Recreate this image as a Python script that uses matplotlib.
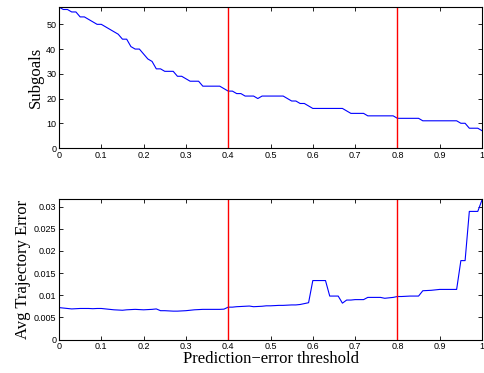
import numpy as np
import matplotlib
matplotlib.use("Agg")
import matplotlib.pyplot as plt

thresholds = np.round(np.arange(0, 1.0001, 0.01), 2)

subgoals = [57, 56, 56, 55, 55, 53, 53, 52, 51, 50,
            50, 49, 48, 47, 46, 44, 44, 41, 40, 40,
            38, 36, 35, 32, 32, 31, 31, 31, 29, 29,
            28, 27, 27, 27, 25, 25, 25, 25, 25, 24,
            23, 23, 22, 22, 21, 21, 21, 20, 21, 21,
            21, 21, 21, 21, 20, 19, 19, 18, 18, 17,
            16, 16, 16, 16, 16, 16, 16, 16, 15, 14,
            14, 14, 14, 13, 13, 13, 13, 13, 13, 13,
            12, 12, 12, 12, 12, 12, 11, 11, 11, 11,
            11, 11, 11, 11, 11, 10, 10, 8, 8, 8,
            7]

traj_err = [7.2, 7.1, 7.0, 6.9, 6.95, 7.0, 7.0, 7.0, 6.95, 7.0,
            7.0, 6.9, 6.8, 6.7, 6.65, 6.6, 6.7, 6.75, 6.8, 6.75,
            6.7, 6.75, 6.8, 6.9, 6.5, 6.5, 6.45, 6.4, 6.4, 6.45,
            6.5, 6.6, 6.7, 6.75, 6.8, 6.8, 6.8, 6.8, 6.8, 6.85,
            7.3, 7.3, 7.4, 7.45, 7.5, 7.55, 7.4, 7.45, 7.5, 7.6,
            7.6, 7.65, 7.7, 7.7, 7.75, 7.8, 7.8, 7.9, 8.1, 8.3,
            13.3, 13.3, 13.3, 13.3, 9.8, 9.8, 9.8, 8.2, 8.9, 8.9,
            9.0, 9.0, 9.0, 9.5, 9.5, 9.5, 9.5, 9.3, 9.4, 9.5,
            9.7, 9.7, 9.75, 9.8, 9.8, 9.8, 11.0, 11.05, 11.1, 11.2,
            11.3, 11.3, 11.3, 11.3, 11.3, 17.8, 17.8, 28.9, 28.9, 28.9,
            31.5]
traj_err = [v / 1000.0 for v in traj_err]

vlines = [0.4, 0.8]
xticks = [0, 0.1, 0.2, 0.3, 0.4, 0.5, 0.6, 0.7, 0.8, 0.9, 1]
xticklabels = ["0", "0.1", "0.2", "0.3", "0.4", "0.5", "0.6", "0.7", "0.8", "0.9", "1"]
yticks_top = [0, 10, 20, 30, 40, 50]
yticks_bot = [0, 0.005, 0.01, 0.015, 0.02, 0.025, 0.03]
yticklabels_bot = ["0", "0.005", "0.01", "0.015", "0.02", "0.025", "0.03"]

fig = plt.figure(figsize=(4.84, 3.73), dpi=100)
ax1 = fig.add_axes([0.1219, 0.6032, 0.874, 0.378])
ax2 = fig.add_axes([0.1219, 0.0898, 0.874, 0.3767])

tickfont = "Liberation Sans"
labfont = "Liberation Serif"

def style(ax):
    ax.tick_params(direction="in", top=True, right=True, length=3, width=0.6,
                   labelsize=6.5, pad=2)
    for lab in ax.get_xticklabels() + ax.get_yticklabels():
        lab.set_fontfamily(tickfont)
    for s in ax.spines.values():
        s.set_linewidth(0.8)

ax1.plot(thresholds, subgoals, color="blue", lw=0.8)
for v in vlines:
    ax1.axvline(v, color="red", lw=1.0)
ax1.set_xlim(0, 1)
ax1.set_ylim(0, 57)
ax1.set_xticks(xticks)
ax1.set_xticklabels(xticklabels)
ax1.set_yticks(yticks_top)
ax1.set_ylabel("Subgoals", fontfamily=labfont, fontsize=12, labelpad=2)
style(ax1)

ax2.plot(thresholds, traj_err, color="blue", lw=0.8)
for v in vlines:
    ax2.axvline(v, color="red", lw=1.0)
ax2.set_xlim(0, 1)
ax2.set_ylim(0, 0.0317)
ax2.set_xticks(xticks)
ax2.set_xticklabels(xticklabels)
ax2.set_yticks(yticks_bot)
ax2.set_yticklabels(yticklabels_bot)
ax2.set_ylabel("Avg Trajectory Error", fontfamily=labfont, fontsize=12, labelpad=2)
ax2.set_xlabel("Prediction\u2212error threshold", fontfamily=labfont, fontsize=12, labelpad=0)
style(ax2)

fig.savefig("out.png", dpi=100)
